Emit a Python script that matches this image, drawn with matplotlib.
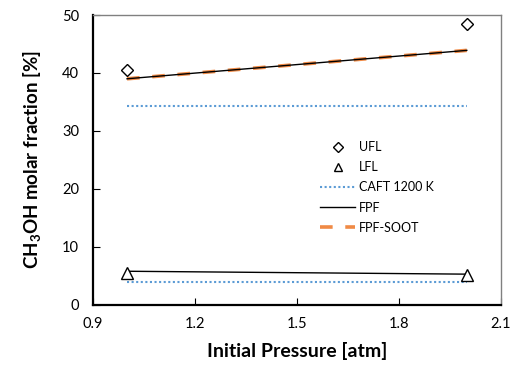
import matplotlib
matplotlib.use("Agg")
import matplotlib.pyplot as plt
from matplotlib.ticker import MultipleLocator

plt.rcParams['font.family'] = ['Lato', 'DejaVu Sans']
plt.rcParams['mathtext.fontset'] = 'custom'
plt.rcParams['mathtext.rm'] = 'Lato:bold'
plt.rcParams['mathtext.it'] = 'Lato:bold'
plt.rcParams['mathtext.bf'] = 'Lato:bold'

pressure = [1.0, 2.0]
ufl = [40.5, 48.4]
lfl = [5.5, 5.2]
caft_upper = [34.3, 34.3]
caft_lower = [3.9, 3.9]
fpf_upper = [39.0, 43.9]
fpf_lower = [5.8, 5.3]
fpf_soot = [39.0, 43.9]

fig = plt.figure(figsize=(5.2, 3.66), dpi=100)
ax = fig.add_axes([0.179, 0.167, 0.784, 0.792])

ax.plot(pressure, fpf_soot, color='#F08A45', lw=2.6, dashes=(3.5, 3.5), label='FPF-SOOT', zorder=2)
ax.plot(pressure, fpf_upper, color='black', lw=1, label='FPF', zorder=3)
ax.plot(pressure, fpf_lower, color='black', lw=1, zorder=3)
ax.plot(pressure, caft_upper, color='#5B9BD5', lw=1.5, ls=(0, (1, 1.2)), label='CAFT 1200 K')
ax.plot(pressure, caft_lower, color='#5B9BD5', lw=1.5, ls=(0, (1, 1.2)))
ax.plot(pressure, ufl, ls='none', marker='D', ms=6, mfc='white', mec='black', mew=1, label='UFL', zorder=4)
ax.plot(pressure, lfl, ls='none', marker='^', ms=8, mfc='white', mec='black', mew=1, label='LFL', zorder=4)

ax.set_xlim(0.9, 2.1)
ax.set_ylim(0, 50)
ax.xaxis.set_major_locator(MultipleLocator(0.3))
ax.yaxis.set_major_locator(MultipleLocator(10))
ax.tick_params(direction='in', length=5, labelsize=10.5, colors='black', pad=9)
ax.tick_params(axis='y', pad=10)
ax.set_xticklabels([f'{v:.1f}' for v in ax.get_xticks()])

for s in ['left', 'bottom']:
    ax.spines[s].set_linewidth(1.6)
    ax.spines[s].set_color('black')
for s in ['top', 'right']:
    ax.spines[s].set_linewidth(1.0)
    ax.spines[s].set_color('#808080')

ax.set_xlabel('Initial Pressure [atm]', fontsize=14, fontweight='bold', labelpad=8)
ax.set_ylabel('CH$_3$OH molar fraction [%]', fontsize=13.5, fontweight='bold', labelpad=14)

h, l = ax.get_legend_handles_labels()
order = [l.index(x) for x in ['UFL', 'LFL', 'CAFT 1200 K', 'FPF', 'FPF-SOOT']]
leg = ax.legend([h[i] for i in order], [l[i] for i in order], loc='center left',
          bbox_to_anchor=(0.53, 0.405), frameon=False, fontsize=9,
          handlelength=2.8, labelspacing=0.65, handletextpad=0.3, markerscale=0.8)

fig.savefig('out.png', dpi=100)
